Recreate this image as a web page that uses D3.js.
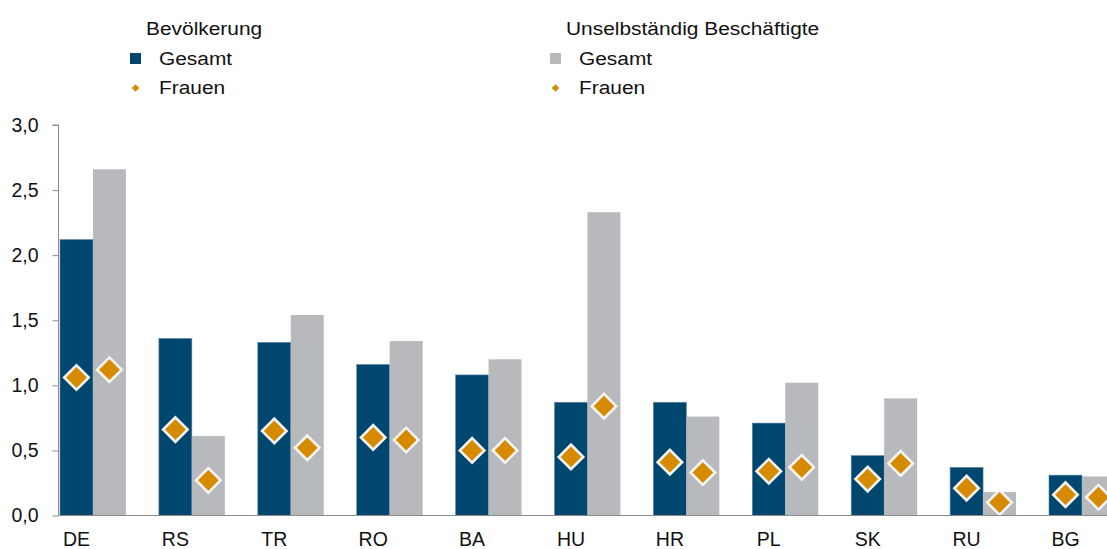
<!DOCTYPE html>
<html>
<head>
<meta charset="utf-8">
<script src="https://cdn.jsdelivr.net/npm/d3@7"></script>
<style>
  body { margin: 0; background: #fff; }
  svg { display: block; font-family: "Liberation Sans", Arial, sans-serif; }
</style>
</head>
<body>
<div id="chart"></div>
<script>
// Data
const countries = ["DE", "RS", "TR", "RO", "BA", "HU", "HR", "PL", "SK", "RU", "BG"];
const popTotal = [2.12, 1.36, 1.33, 1.16, 1.08, 0.87, 0.87, 0.71, 0.46, 0.37, 0.31];
const popWomen = [1.06, 0.66, 0.65, 0.60, 0.50, 0.45, 0.41, 0.34, 0.28, 0.21, 0.16];
const empTotal = [2.66, 0.61, 1.54, 1.34, 1.20, 2.33, 0.76, 1.02, 0.90, 0.18, 0.30];
const empWomen = [1.12, 0.27, 0.52, 0.58, 0.50, 0.84, 0.33, 0.37, 0.40, 0.10, 0.14];
const yTicks = [0, 0.5, 1, 1.5, 2, 2.5, 3];
const groupTitles = ["Bevölkerung", "Unselbständig Beschäftigte"];

const navy = "#00476F", grey = "#B8B9BD", orange = "#D68A00";

const W = 1107, H = 549;
const svg = d3.select("#chart").append("svg")
    .attr("width", W)
    .attr("height", H);

// scales
const y = d3.scaleLinear().domain([0, 3]).range([515.5, 125]);

const step = 98.9;
const x = d3.scaleBand()
    .domain(countries)
    .range([60, 60 + step * (countries.length - 1 / 3)])
    .paddingInner(1 / 3)
    .paddingOuter(0);

const xs = d3.scaleBand()
    .domain(["pop", "emp"])
    .range([0, x.bandwidth()]);

const rows = countries.map((c, i) => ({
    c, popTotal: popTotal[i], popWomen: popWomen[i], empTotal: empTotal[i], empWomen: empWomen[i]
}));

// bars
const g = svg.append("g");
const grp = g.selectAll(".grp").data(rows).enter().append("g")
    .attr("transform", d => "translate(" + x(d.c) + ",0)");

grp.append("rect")
    .attr("x", xs("pop"))
    .attr("y", d => y(d.popTotal))
    .attr("width", xs.bandwidth())
    .attr("height", d => y(0) - y(d.popTotal))
    .attr("fill", navy)
    .attr("stroke", "#5f88a8")
    .attr("stroke-width", 0.6);

grp.append("rect")
    .attr("x", xs("emp"))
    .attr("y", d => y(d.empTotal))
    .attr("width", xs.bandwidth())
    .attr("height", d => y(0) - y(d.empTotal))
    .attr("fill", grey);

// axes
const yAxis = svg.append("g")
    .attr("transform", "translate(58.5,0)")
    .call(d3.axisLeft(y).tickValues(yTicks)
        .tickFormat(d => d3.format(".1f")(d).replace(".", ","))
        .tickSize(6).tickPadding(14));
yAxis.select(".domain").attr("stroke", "#8c8c8c").attr("d", "M-6," + y(3) + "H0V" + y(0));
yAxis.selectAll(".tick line").attr("stroke", "#8c8c8c");
yAxis.selectAll("text").attr("font-size", "19.5px").attr("fill", "#111").attr("font-family", "Liberation Sans, Arial, sans-serif");

// baseline
svg.append("line")
    .attr("x1", 58.5).attr("x2", W)
    .attr("y1", y(0)).attr("y2", y(0))
    .attr("stroke", "#8c8c8c").attr("stroke-width", 1.2);

const xAxis = svg.append("g")
    .attr("transform", "translate(" + (-x.bandwidth() / 4) + "," + y(0) + ")")
    .call(d3.axisBottom(x).tickSize(0).tickPadding(17));
xAxis.select(".domain").remove();
xAxis.selectAll("text").attr("font-size", "19.5px").attr("fill", "#111").attr("font-family", "Liberation Sans, Arial, sans-serif");

// diamonds
const diamond = d3.symbol().type(d3.symbolSquare).size(300);
function addDiamonds(key, sub) {
    grp.append("path")
        .attr("d", diamond)
        .attr("transform", d => "translate(" + (xs(sub) + xs.bandwidth() / 2) + "," + y(d[key]) + ") rotate(45)")
        .attr("fill", orange)
        .attr("stroke", "#f4f4f4")
        .attr("stroke-width", 2.6);
}
addDiamonds("popWomen", "pop");
addDiamonds("empWomen", "emp");

// legend
const legendX = [130, 550];
const legendColors = [navy, grey];
groupTitles.forEach((t, i) => {
    const lg = svg.append("g").attr("transform", "translate(" + legendX[i] + ",0)");
    lg.append("text")
        .attr("transform", "translate(16,35) scale(1.1,1)")
        .attr("font-size", "19px").attr("fill", "#111")
        .text(t);
    lg.append("rect")
        .attr("x", 0).attr("y", 53)
        .attr("width", 11).attr("height", 11)
        .attr("fill", legendColors[i]);
    lg.append("text")
        .attr("transform", "translate(29,65) scale(1.1,1)")
        .attr("font-size", "19px").attr("fill", "#111")
        .text("Gesamt");
    lg.append("path")
        .attr("d", d3.symbol().type(d3.symbolSquare).size(40))
        .attr("transform", "translate(5.5,88) rotate(45)")
        .attr("fill", orange)
        .attr("stroke", "#fff").attr("stroke-width", 1);
    lg.append("text")
        .attr("transform", "translate(29,94) scale(1.1,1)")
        .attr("font-size", "19px").attr("fill", "#111")
        .text("Frauen");
});
</script>
</body>
</html>
